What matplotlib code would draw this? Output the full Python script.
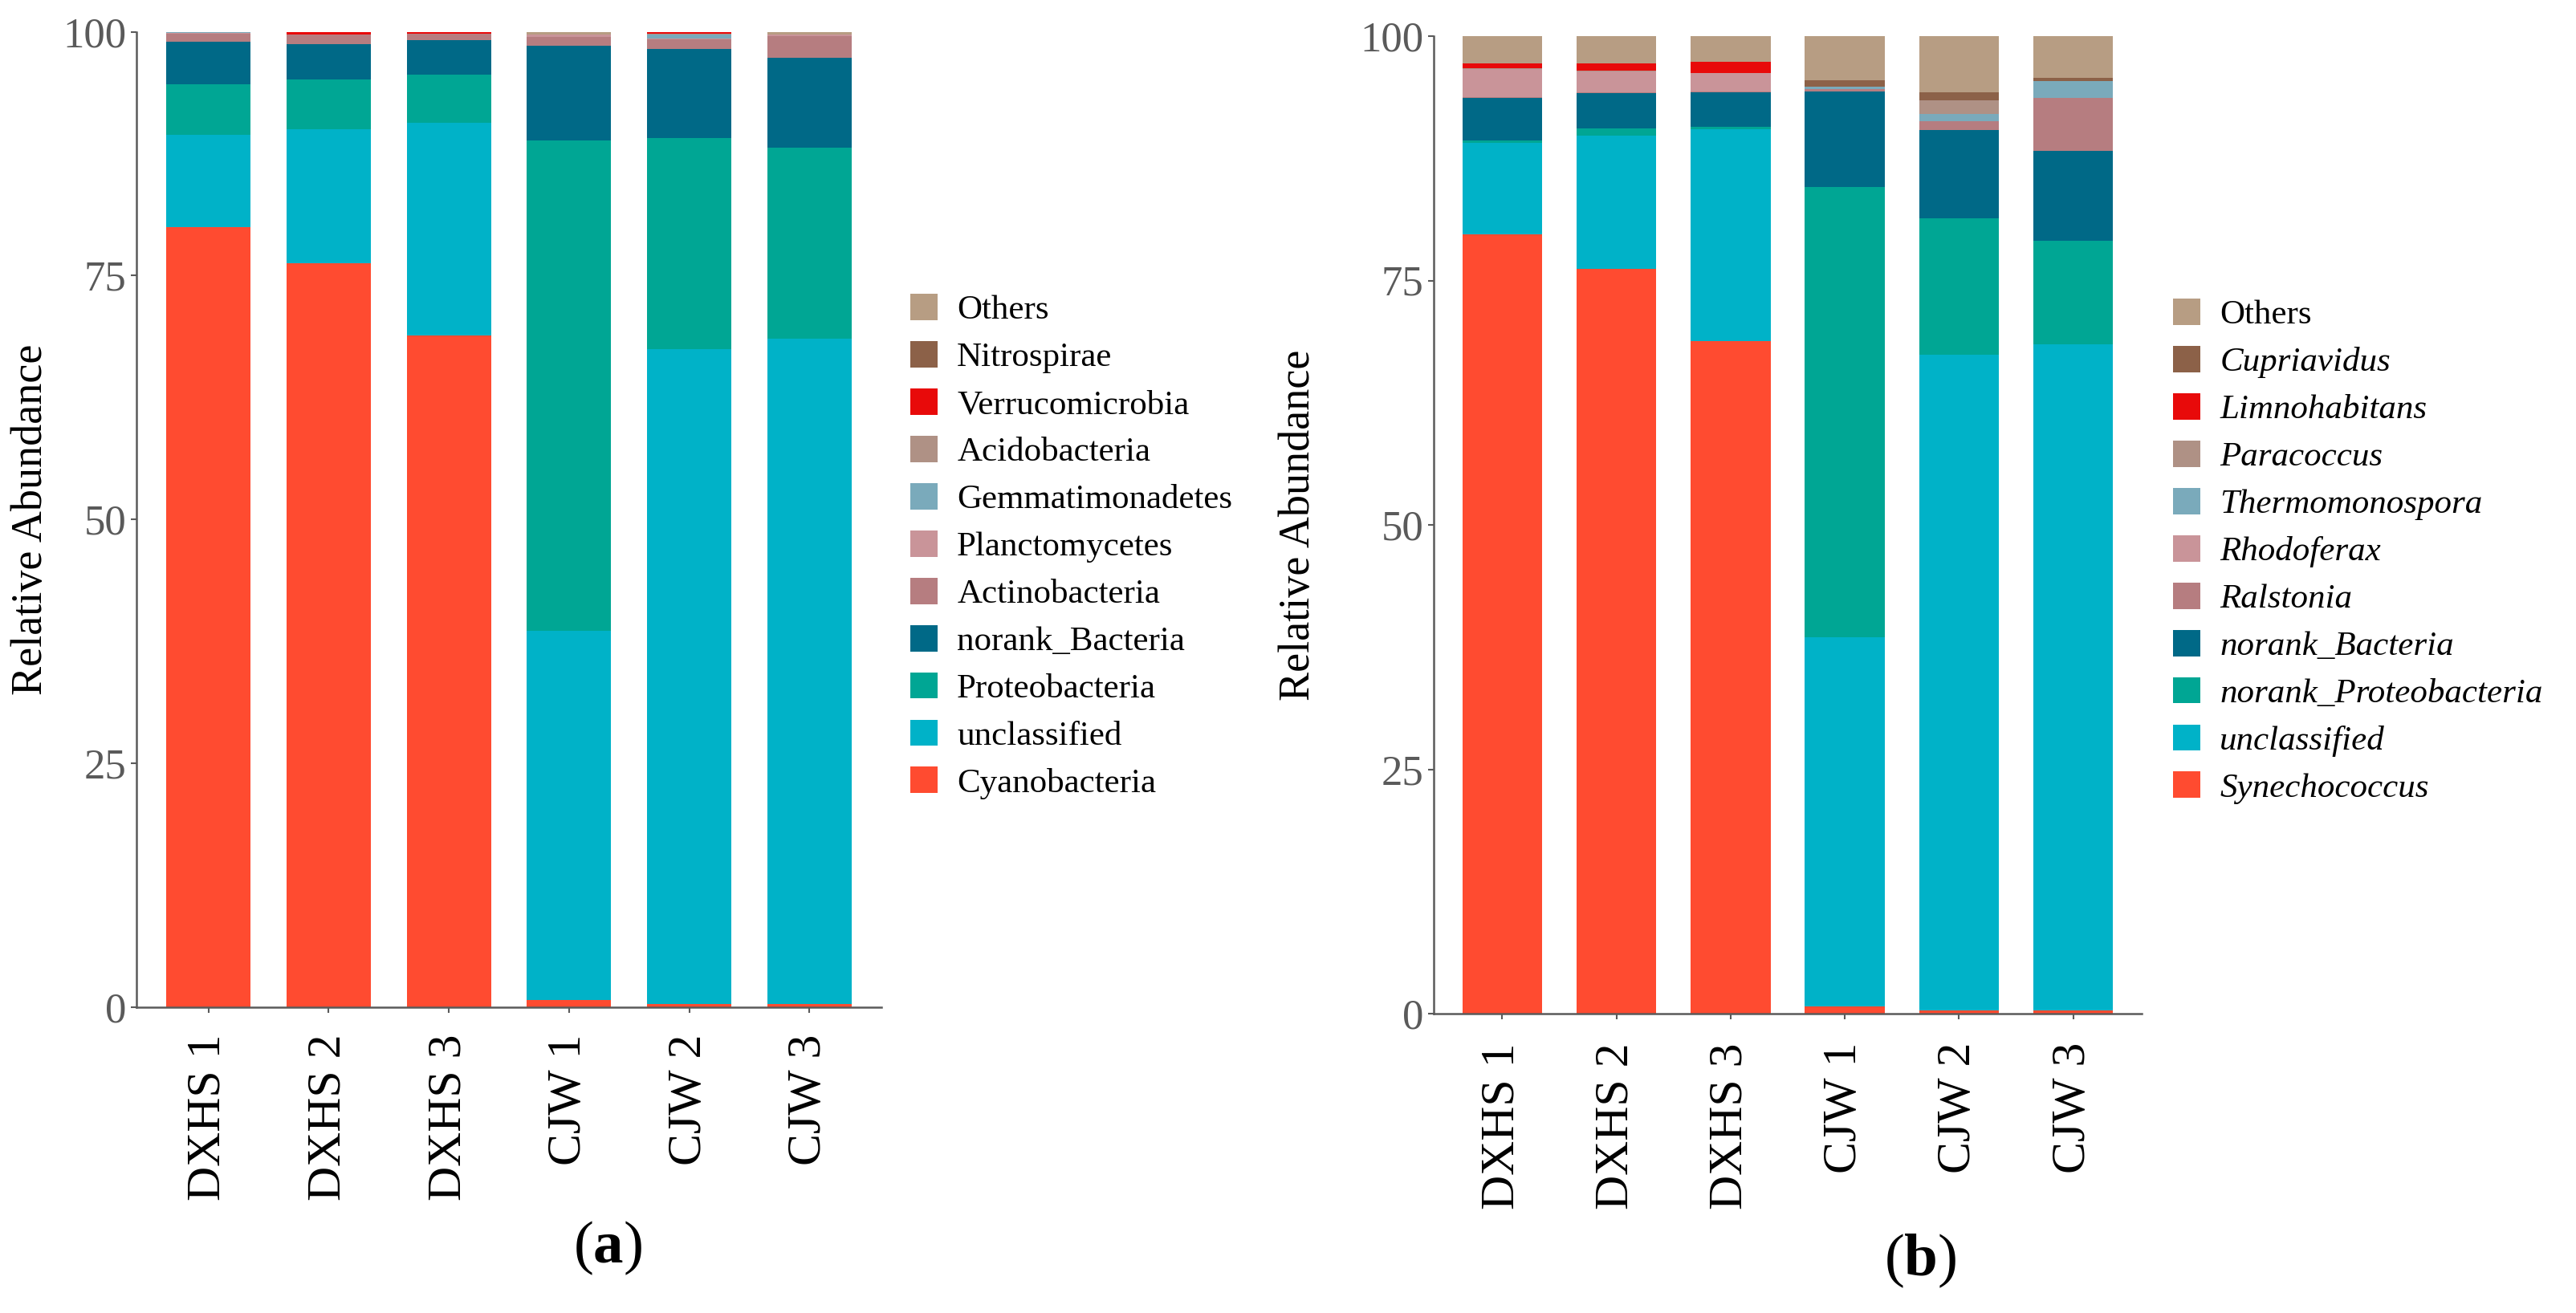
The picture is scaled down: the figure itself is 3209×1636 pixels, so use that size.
import matplotlib
matplotlib.use("Agg")
import matplotlib.pyplot as plt
from matplotlib.patches import Patch
import numpy as np

plt.rcParams['font.family'] = ['Liberation Serif', 'DejaVu Serif']
plt.rcParams['mathtext.fontset'] = 'custom'
plt.rcParams['mathtext.rm'] = 'Liberation Serif'
plt.rcParams['mathtext.bf'] = 'Liberation Serif:bold'

# ---------------- data ----------------
samples = ['DXHS 1', 'DXHS 2', 'DXHS 3', 'CJW 1', 'CJW 2', 'CJW 3']

# panel (a): phylum level, stacking order bottom -> top
phyla = ['Cyanobacteria', 'unclassified', 'Proteobacteria', 'norank_Bacteria',
         'Actinobacteria', 'Planctomycetes', 'Gemmatimonadetes', 'Acidobacteria',
         'Verrucomicrobia', 'Nitrospirae', 'Others']
Cyanobacteria = [80.0, 76.3, 68.9, 0.7, 0.3, 0.3]
unclassified_a = [9.4, 13.7, 21.8, 37.9, 67.2, 68.25]
Proteobacteria = [5.2, 5.1, 4.9, 50.25, 21.6, 19.55]
norank_Bacteria_a = [4.4, 3.6, 3.5, 9.75, 9.1, 9.2]
Actinobacteria = [0.8, 1.0, 0.7, 0.9, 1.0, 2.25]
Planctomycetes = [0.1, 0.05, 0.0, 0.2, 0.1, 0.15]
Gemmatimonadetes = [0.05, 0.0, 0.0, 0.0, 0.4, 0.0]
Acidobacteria = [0.05, 0.0, 0.0, 0.0, 0.1, 0.0]
Verrucomicrobia = [0.0, 0.25, 0.2, 0.0, 0.2, 0.0]
Nitrospirae = [0.0, 0.0, 0.0, 0.0, 0.0, 0.0]
Others_a = [0.0, 0.0, 0.0, 0.3, 0.0, 0.3]

# panel (b): genus level, stacking order bottom -> top
genera = ['Synechococcus', 'unclassified', 'norank_Proteobacteria', 'norank_Bacteria',
          'Ralstonia', 'Rhodoferax', 'Thermomonospora', 'Paracoccus',
          'Limnohabitans', 'Cupriavidus', 'Others']
Synechococcus = [79.75, 76.2, 68.8, 0.7, 0.3, 0.3]
unclassified_b = [9.35, 13.6, 21.7, 37.8, 67.1, 68.2]
norank_Proteobacteria = [0.2, 0.75, 0.2, 46.1, 14.0, 10.6]
norank_Bacteria_b = [4.4, 3.65, 3.55, 9.7, 9.0, 9.2]
Ralstonia = [0.1, 0.05, 0.05, 0.25, 0.9, 5.35]
Rhodoferax = [2.8, 2.15, 1.95, 0.0, 0.0, 0.0]
Thermomonospora = [0.0, 0.0, 0.0, 0.3, 0.7, 1.75]
Paracoccus = [0.1, 0.1, 0.0, 0.0, 1.4, 0.0]
Limnohabitans = [0.5, 0.7, 1.15, 0.0, 0.0, 0.0]
Cupriavidus = [0.0, 0.0, 0.0, 0.65, 0.85, 0.35]
Others_b = [2.8, 2.8, 2.6, 4.5, 5.75, 4.25]

yticks = [0, 25, 50, 75, 100]

# ---------------- style ----------------
colors = ['#FF4B30', '#00B2C8', '#00A694', '#006987', '#B67D80', '#C99499',
          '#7AAABB', '#AF9185', '#E80A0A', '#8C6148', '#B79D83']

series_a = [Cyanobacteria, unclassified_a, Proteobacteria, norank_Bacteria_a,
            Actinobacteria, Planctomycetes, Gemmatimonadetes, Acidobacteria,
            Verrucomicrobia, Nitrospirae, Others_a]
series_b = [Synechococcus, unclassified_b, norank_Proteobacteria, norank_Bacteria_b,
            Ralstonia, Rhodoferax, Thermomonospora, Paracoccus,
            Limnohabitans, Cupriavidus, Others_b]

W, H = 3209, 1636
fig = plt.figure(figsize=(W / 100, H / 100), dpi=100)

axis_col = '#5A5A5A'


def panel(rect_px, series, names, italic, leg_xy, ylab_x, xpad):
    l, t, r, b = rect_px
    ax = fig.add_axes([l / W, 1 - b / H, (r - l) / W, (b - t) / H])
    x = np.arange(len(samples))
    bottom = np.zeros(len(samples))
    for vals, c in zip(series, colors):
        v = np.array(vals, dtype=float)
        ax.bar(x, v, width=0.7, bottom=bottom, color=c, linewidth=0)
        bottom += v
    ax.set_xlim(-0.6, len(samples) - 0.4)
    ax.set_ylim(0, 100)
    ax.set_yticks(yticks)
    ax.set_yticklabels([str(v) for v in yticks], fontsize=38, color=axis_col)
    ax.set_xticks(x)
    ax.set_xticklabels(samples, rotation=90, fontsize=43, color='black', va='top')
    ax.tick_params(axis='y', length=5, width=1.5, color=axis_col, pad=4)
    ax.tick_params(axis='x', length=5, width=1.5, color=axis_col, pad=xpad)
    for s in ['top', 'right']:
        ax.spines[s].set_visible(False)
    for s in ['left', 'bottom']:
        ax.spines[s].set_color(axis_col)
        ax.spines[s].set_linewidth(1.8)
    ax.set_ylabel('Relative Abundance', fontsize=39, color='black')
    ax.yaxis.set_label_coords((ylab_x - l) / (r - l), 0.5)

    handles = []
    for n, c in list(zip(names, colors))[::-1]:
        handles.append(Patch(facecolor=c, edgecolor='none', label=n))
    leg = ax.legend(handles=handles, loc='upper left',
                    bbox_to_anchor=(leg_xy[0] / W, 1 - leg_xy[1] / H),
                    bbox_transform=fig.transFigure, frameon=False,
                    fontsize=31, handlelength=0.8, handleheight=0.8,
                    handletextpad=0.55, labelspacing=0.43, borderpad=0,
                    borderaxespad=0)
    if italic:
        for txt in leg.get_texts():
            if txt.get_text() != 'Others':
                txt.set_fontstyle('italic')
    return ax


ax_a = panel((170, 39.5, 1098, 1255), series_a, phyla, False, (1134, 366), 64, 19)
ax_b = panel((1786, 45, 2668, 1263), series_b, genera, True, (2707, 372), 1643, 21)

fig.text(757 / W, 1 - 1555 / H, r'($\mathbf{a}$)', fontsize=54, ha='center', va='center')
fig.text(2392 / W, 1 - 1571 / H, r'($\mathbf{b}$)', fontsize=54, ha='center', va='center')

fig.savefig('out.png', dpi=100)
